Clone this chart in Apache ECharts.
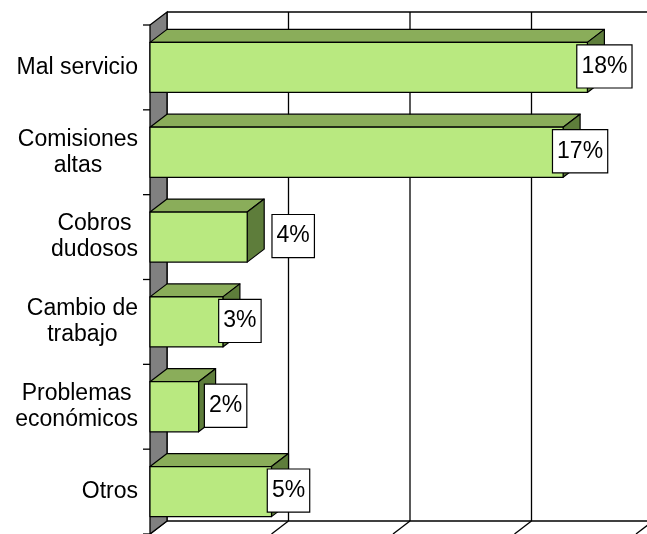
<!DOCTYPE html>
<html>
<head>
<meta charset="utf-8">
<script src="https://cdn.jsdelivr.net/npm/echarts@6/dist/echarts.min.js"></script>
<style>
    html, body { margin: 0; padding: 0; background: #fff; }
    #chart { width: 647px; height: 534px; }
</style>
</head>
<body>
<div id="chart"></div>
<script>
    var categories = ['Mal servicio', 'Comisiones\naltas', 'Cobros\ndudosos', 'Cambio de\ntrabajo', 'Problemas\necon\u00f3micos', 'Otros'];
    var values = [18, 17, 4, 3, 2, 5];
    var xTicks = [0, 5, 10, 15, 20];

    (function () {
        var chart = echarts.init(document.getElementById('chart'));
        var DX = 17, DY = 13;          // depth of the 3d effect
        var FONT = '23px "Liberation Sans", Arial, sans-serif';
        // label box nudges where excel moved the label off the bar end
        var labelShift = {2: 29, 4: 10};

        function renderFrame(params, api) {
            var cs = params.coordSys;
            var top = cs.y, bottom = cs.y + cs.height;
            var p = api.coord([api.value(0), 0]);
            var x = p[0];
            var children = [
                {type: 'line', shape: {x1: x + DX, y1: top - DY, x2: x + DX, y2: bottom - DY},
                    style: {stroke: '#000', lineWidth: 1.3}},
                {type: 'line', shape: {x1: x, y1: bottom, x2: x + DX, y2: bottom - DY},
                    style: {stroke: '#000', lineWidth: 1.3}}
            ];
            if (params.dataIndex === 0) {
                children.push({type: 'polygon', shape: {points: [[x, top], [x + DX, top - DY], [x + DX, bottom - DY], [x, bottom]]},
                    style: {fill: '#808080', stroke: '#000', lineWidth: 1.3}});
                children.push({type: 'line', shape: {x1: x + DX, y1: top - DY, x2: cs.x + cs.width + DX + 20, y2: top - DY},
                    style: {stroke: '#000', lineWidth: 1.3}});
                children.push({type: 'line', shape: {x1: x + DX, y1: bottom - DY, x2: cs.x + cs.width + DX + 20, y2: bottom - DY},
                    style: {stroke: '#000', lineWidth: 1.3}});
                var band = api.size([0, 1])[1];
                for (var i = 0; i <= categories.length; i++) {
                    var ty = top + i * band;
                    children.push({type: 'line', shape: {x1: x - 7, y1: ty, x2: x, y2: ty},
                        style: {stroke: '#000', lineWidth: 1.3}});
                }
            }
            return {type: 'group', children: children};
        }

        function renderBar(params, api) {
            var idx = api.value(1);
            var v = api.value(0);
            var start = api.coord([0, idx]);
            var end = api.coord([v, idx]);
            var band = api.size([0, 1])[1];
            var h = band * 0.59;
            var x0 = start[0], x1 = end[0];
            var y0 = end[1] - h / 2;
            var line = {stroke: '#000', lineWidth: 1.2, lineJoin: 'round'};
            var shift = labelShift[params.dataIndex] || 0;
            return {
                type: 'group',
                children: [
                    {type: 'polygon', shape: {points: [[x0, y0], [x0 + DX, y0 - DY], [x1 + DX, y0 - DY], [x1, y0]]},
                        style: echarts.util.extend({fill: '#8aad5a'}, line)},
                    {type: 'polygon', shape: {points: [[x1, y0], [x1 + DX, y0 - DY], [x1 + DX, y0 + h - DY], [x1, y0 + h]]},
                        style: echarts.util.extend({fill: '#5e7d3b'}, line)},
                    {type: 'rect', shape: {x: x0, y: y0, width: x1 - x0, height: h},
                        style: echarts.util.extend({fill: '#b9e980'}, line)},
                    {type: 'text', x: x1 + DX + shift, y: end[1] - 1,
                        style: {
                            text: v + '%', font: FONT, fill: '#000',
                            align: 'center', verticalAlign: 'middle',
                            backgroundColor: '#fff', borderColor: '#000', borderWidth: 1.2,
                            padding: [8, 4, 8, 4], lineHeight: 26
                        }}
                ]
            };
        }

        var option = {
            backgroundColor: '#fff',
            animation: false,
            grid: {left: 150, right: 11, top: 25, bottom: 0},
            xAxis: {
                type: 'value', min: 0, max: 20, interval: 5,
                axisLine: {show: false}, axisTick: {show: false},
                axisLabel: {show: false}, splitLine: {show: false}
            },
            yAxis: {
                type: 'category', inverse: true, data: categories,
                axisLine: {show: false}, axisTick: {show: false},
                axisLabel: {
                    margin: 12,
                    formatter: function (val) {
                        return val.split('\n').map(function (s) { return '{c|' + s + '}'; }).join('\n');
                    },
                    rich: {
                        c: {align: 'center', fontSize: 23, lineHeight: 26, color: '#000',
                            fontFamily: '"Liberation Sans", Arial, sans-serif'}
                    }
                }
            },
            series: [
                {
                    type: 'custom', renderItem: renderFrame, clip: false, z: 1,
                    data: xTicks.map(function (t) { return [t]; }),
                    encode: {x: 0}
                },
                {
                    type: 'custom', renderItem: renderBar, clip: false, z: 2,
                    data: values.map(function (v, i) { return [v, i]; }),
                    encode: {x: 0, y: 1}
                }
            ]
        };
        chart.setOption(option);
    }());
</script>
</body>
</html>
